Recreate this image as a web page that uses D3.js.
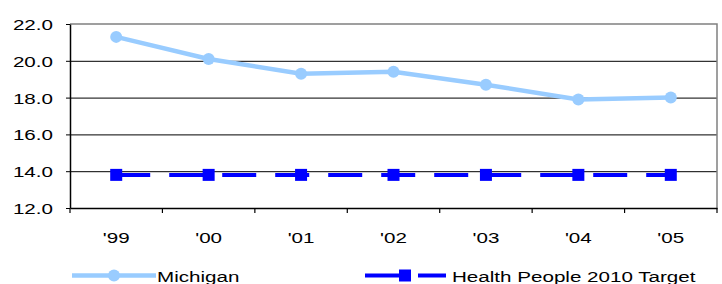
<!DOCTYPE html>
<html>
<head>
<meta charset="utf-8">
<script src="https://cdn.jsdelivr.net/npm/d3@7"></script>
<style>
  body { margin: 0; background: #fff; }
  svg { display: block; }
  text { font-family: "Liberation Sans", Arial, Helvetica, sans-serif; font-size: 15.5px; fill: #000; }
</style>
</head>
<body>
<svg width="722" height="284"></svg>
<script>
var categories = ["'99", "'00", "'01", "'02", "'03", "'04", "'05"];
var michigan = [21.3, 20.1, 19.3, 19.4, 18.7, 17.9, 18.0];
var target = [13.8, 13.8, 13.8, 13.8, 13.8, 13.8, 13.8];
var yTicks = [12, 14, 16, 18, 20, 22];
var seriesNames = ["Michigan", "Health People 2010 Target"];

var svg = d3.select("svg"),
  width = +svg.attr("width"),
  height = +svg.attr("height");

var sx = 1.33; // text in the picture is stretched horizontally

var x = d3.scaleBand().domain(categories).range([70, 717]).padding(0);
var y = d3.scaleLinear().domain([12, 22]).range([208, 24]);
var cx = function (d, i) { return x(categories[i]) + x.bandwidth() / 2; };

// gridlines
svg.append("g")
  .attr("transform", "translate(70,0)")
  .call(d3.axisLeft(y).tickValues(yTicks.slice(1, -1)).tickSize(-647).tickFormat(""))
  .call(function (g) { g.select(".domain").remove(); })
  .selectAll("line").attr("stroke", "#000");

// plot border top/right
svg.append("path")
  .attr("d", "M70," + y(22) + "H717V" + y(12))
  .attr("fill", "none")
  .attr("stroke", "#808080")
  .attr("stroke-width", 1.5);

// y axis
var yAxis = svg.append("g")
  .attr("transform", "translate(70,0)")
  .call(d3.axisLeft(y).tickValues(yTicks).tickSize(4).tickSizeOuter(0).tickFormat(d3.format(".1f")));
yAxis.select(".domain").attr("stroke", "#000").attr("stroke-width", 1.5);
yAxis.selectAll("text")
  .attr("x", -17 / sx)
  .attr("dy", "0.36em")
  .attr("transform", "scale(" + sx + ",1)")
  .style("font-size", null);

// x axis
var xAxis = svg.append("g")
  .attr("transform", "translate(0,208)")
  .call(d3.axisBottom(x).tickSize(0).tickPadding(24));
xAxis.select(".domain").attr("stroke", "#000").attr("stroke-width", 1.5);
xAxis.selectAll("text")
  .attr("transform", "scale(" + sx + ",1)")
  .attr("dy", "0.71em")
  .style("font-size", null);
xAxis.selectAll(".tick text").each(function () { this.setAttribute("x", 0); });
xAxis.selectAll("text").style("font-size", null).attr("font-size", null);
svg.selectAll(".tick text").attr("font-family", null);
svg.selectAll("g").attr("font-size", null).attr("font-family", null);

// x tick marks at category boundaries
svg.append("g")
  .selectAll("line")
  .data(d3.range(categories.length + 1))
  .join("line")
  .attr("x1", function (i) { return x.range()[0] + i * x.step(); })
  .attr("x2", function (i) { return x.range()[0] + i * x.step(); })
  .attr("y1", 208)
  .attr("y2", 213)
  .attr("stroke", "#000")
  .attr("stroke-width", 1.2);

// target series
var line = d3.line().x(cx).y(function (d) { return y(d); });
svg.append("path")
  .datum(target)
  .attr("d", line)
  .attr("fill", "none")
  .attr("stroke", "#0000ff")
  .attr("stroke-width", 4)
  .attr("stroke-dasharray", "34,19");
svg.append("g")
  .selectAll("rect")
  .data(target)
  .join("rect")
  .attr("x", function (d, i) { return cx(d, i) - 6; })
  .attr("y", function (d) { return y(d) - 6; })
  .attr("width", 12)
  .attr("height", 12)
  .attr("fill", "#0000ff");

// michigan series
svg.append("path")
  .datum(michigan)
  .attr("d", line)
  .attr("fill", "none")
  .attr("stroke", "#99ccff")
  .attr("stroke-width", 4.5);
svg.append("g")
  .selectAll("circle")
  .data(michigan)
  .join("circle")
  .attr("cx", cx)
  .attr("cy", function (d) { return y(d); })
  .attr("r", 6)
  .attr("fill", "#99ccff");

// legend
var ly = 275.5;
var lg1 = svg.append("g");
lg1.append("line")
  .attr("x1", 72).attr("x2", 156).attr("y1", ly).attr("y2", ly)
  .attr("stroke", "#99ccff").attr("stroke-width", 4.5);
lg1.append("circle").attr("cx", 114).attr("cy", ly).attr("r", 6).attr("fill", "#99ccff");
lg1.append("text")
  .attr("transform", "translate(157,282) scale(" + sx + ",1)")
  .text(seriesNames[0]);

var lg2 = svg.append("g");
lg2.append("line")
  .attr("x1", 365).attr("x2", 446).attr("y1", ly).attr("y2", ly)
  .attr("stroke", "#0000ff").attr("stroke-width", 4)
  .attr("stroke-dasharray", "34,19");
lg2.append("rect").attr("x", 399).attr("y", ly - 6).attr("width", 12).attr("height", 12).attr("fill", "#0000ff");
lg2.append("text")
  .attr("transform", "translate(452,282) scale(" + sx + ",1)")
  .text(seriesNames[1]);
</script>
</body>
</html>
